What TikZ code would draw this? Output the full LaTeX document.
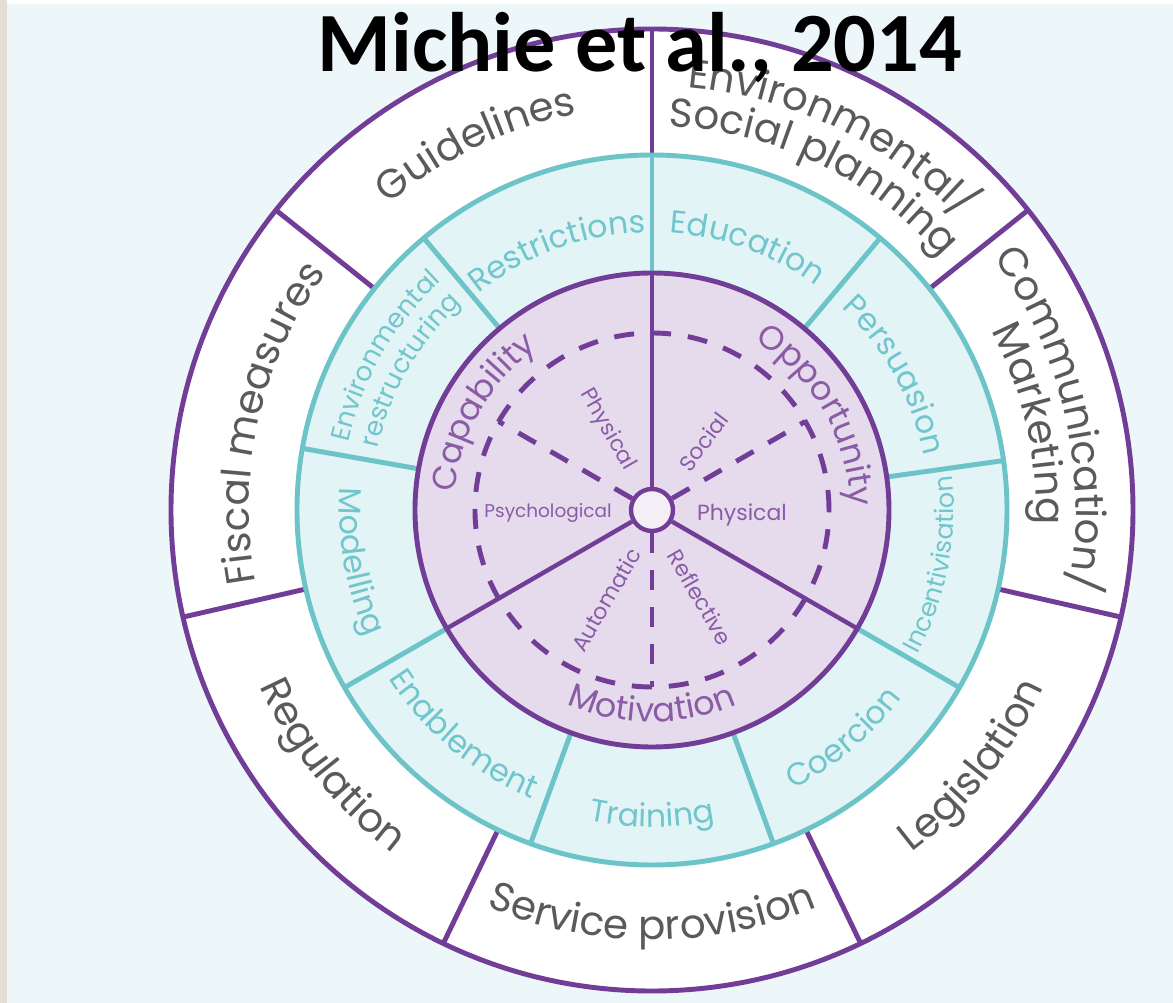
\documentclass[tikz,border=0pt]{standalone}
\usepackage{fontspec}
\setmainfont{Poppins}
\newfontfamily\titlefont{Carlito}
\usetikzlibrary{decorations.text}

\definecolor{wheelpurple}{HTML}{713D97}
\definecolor{wheelteal}{HTML}{6CC4C9}
\definecolor{tealfill}{HTML}{E2F4F5}
\definecolor{discfill}{HTML}{E6DAED}
\definecolor{pagebg}{HTML}{EDF6F9}
\definecolor{edgestrip}{HTML}{E4DDD3}
\definecolor{policytext}{HTML}{5A5A5A}
\definecolor{interventiontext}{HTML}{70C6CC}
\definecolor{sourcetext}{HTML}{8A5CA6}

\newcommand{\policyfont}{\color{policytext}\fontsize{23}{23}\selectfont}
\newcommand{\interventionfont}{\color{interventiontext}\fontsize{18}{18}\selectfont}
\newcommand{\smallinterventionfont}{\color{interventiontext}\fontsize{15}{15}\selectfont}
\newcommand{\sourcefont}{\color{sourcetext}\fontsize{19}{19}\selectfont}

% text set on a circular arc: radius, start angle, end angle, format, text
\newcommand{\arclabel}[5]{%
  \path[decorate,decoration={text along path,text align=center,text={|#4|#5}}]
    (#2:#1) arc[start angle=#2,end angle=#3,radius=#1];}

\begin{document}
\begin{tikzpicture}[
  ringline/.style={draw=wheelpurple,line width=2.8pt},
  tealline/.style={draw=wheelteal,line width=2.8pt},
  dashline/.style={draw=wheelpurple,line width=2.8pt,dash pattern=on 0.4cm off 0.34cm},
  sublabel/.style={text=sourcetext,font=\fontsize{12.5}{12.5}\selectfont,inner sep=0pt}]

\fill[pagebg] (-13.04,-9.86) rectangle (10.42,10.2);
\fill[edgestrip] (-13.04,-9.86) rectangle (-12.9,10.2);
\fill[white] (-12.9,10.12) rectangle (10.42,10.2);
\useasboundingbox (-13.04,-9.86) rectangle (10.42,10.2);

% policy ring
\draw[ringline,fill=white] (0,0) circle (9.62);
\draw[ringline] (90:7.1) -- (90:9.62);
\draw[ringline] (38.57:7.1) -- (38.57:9.62);
\draw[ringline] (-12.86:7.1) -- (-12.86:9.62);
\draw[ringline] (-64.29:7.1) -- (-64.29:9.62);
\draw[ringline] (-115.71:7.1) -- (-115.71:9.62);
\draw[ringline] (-167.14:7.1) -- (-167.14:9.62);
\draw[ringline] (141.43:7.1) -- (141.43:9.62);

% intervention ring
\draw[tealline,fill=tealfill] (0,0) circle (7.1);
\draw[tealline] (90:4.74) -- (90:7.1);
\draw[tealline] (50:4.74) -- (50:7.1);
\draw[tealline] (8:4.74) -- (8:7.1);
\draw[tealline] (-30:4.74) -- (-30:7.1);
\draw[tealline] (-70:4.74) -- (-70:7.1);
\draw[tealline] (-110:4.74) -- (-110:7.1);
\draw[tealline] (-150:4.74) -- (-150:7.1);
\draw[tealline] (170:4.74) -- (170:7.1);
\draw[tealline] (130:4.74) -- (130:7.1);

% sources of behaviour
\draw[ringline,fill=discfill] (0,0) circle (4.74);
\draw[dashline] (0,0) circle (3.54);
\node[circle,draw=wheelpurple,line width=2.5pt,fill=white!55!discfill,minimum size=0.84cm,inner sep=0pt] (hub) at (0,0) {};
\draw[ringline,line width=2.5pt] (hub.90) -- (90:4.74);
\draw[ringline,line width=2.5pt] (hub.-30) -- (-30:4.74);
\draw[ringline,line width=2.5pt] (hub.210) -- (210:4.74);
\draw[dashline] (hub.150) -- (150:3.54);
\draw[dashline] (hub.30) -- (30:3.54);
\draw[dashline] (hub.-90) -- (-90:3.54);

\arclabel{8.06}{192.86}{141.43}{\policyfont}{Fiscal measures}
\arclabel{8.06}{141.43}{90}{\policyfont}{Guidelines}
\arclabel{8.48}{90}{38.57}{\policyfont}{Environmental/}
\arclabel{7.68}{90}{38.57}{\policyfont}{Social planning}
\arclabel{8.48}{38.57}{-12.86}{\policyfont}{Communication/}
\arclabel{7.68}{38.57}{-12.86}{\policyfont}{Marketing}
\arclabel{8.6}{-64.29}{-12.86}{\policyfont}{Legislation}
\arclabel{8.6}{-115.71}{-64.29}{\policyfont}{Service provision}
\arclabel{8.6}{-167.14}{-115.71}{\policyfont}{Regulation}

\arclabel{5.55}{130}{90}{\interventionfont}{Restrictions}
\arclabel{5.55}{90}{50}{\interventionfont}{Education}
\arclabel{5.55}{50}{8}{\interventionfont}{Persuasion}
\arclabel{6.04}{-30}{8}{\color{interventiontext}\fontsize{14.5}{14.5}\selectfont}{Incentivisation}
\arclabel{6.25}{-70}{-30}{\interventionfont}{Coercion}
\arclabel{6.34}{-110}{-70}{\interventionfont}{Training}
\arclabel{6.25}{-150}{-110}{\interventionfont}{Enablement}
\arclabel{6.25}{170}{210}{\interventionfont}{Modelling}
\arclabel{6.22}{170}{130}{\smallinterventionfont}{Environmental}
\arclabel{5.62}{170}{130}{\smallinterventionfont}{restructuring}

\arclabel{3.96}{210}{90}{\sourcefont}{Capability}
\arclabel{3.96}{90}{-30}{\sourcefont}{Opportunity}
\arclabel{4.24}{210}{330}{\sourcefont}{Motivation}

\node[sublabel,rotate=-60] (capphys) at (119:1.84) {Physical};
\node[sublabel,font=\fontsize{10.5}{10.5}\selectfont] (cappsych) at (-2.08,-0.06) {Psychological};
\node[sublabel,rotate=53] (oppsoc) at (53:1.71) {Social};
\node[sublabel] (oppphys) at (1.8,-0.1) {Physical};
\node[sublabel,rotate=60] (motauto) at (243:2.02) {Automatic};
\node[sublabel,rotate=-60] (motrefl) at (-61:2.0) {Reflective};

\node[font=\titlefont\bfseries\fontsize{48}{48}\selectfont,anchor=base,inner sep=0pt] (title) at (-0.24,8.76) {Michie et al., 2014};

\end{tikzpicture}
\end{document}
